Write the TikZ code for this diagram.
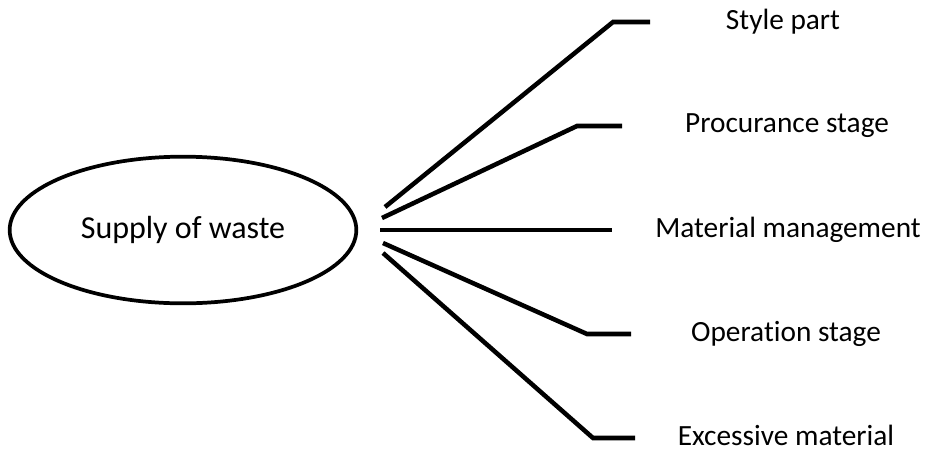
\documentclass[tikz,border=0pt]{standalone}
\usepackage{fontspec}
\setmainfont{Carlito}[RawFeature=-liga]
\usepackage{tikz}
\usetikzlibrary{shapes.geometric, positioning}

\begin{document}
\begin{tikzpicture}[
    x=0.75pt, y=-0.75pt,
    hub/.style={ellipse, draw, line width=2.8pt, minimum width=260pt,
                minimum height=110pt, font=\fontsize{24}{28}\selectfont},
    item/.style={font=\fontsize{22}{26}\selectfont, inner sep=0pt, anchor=center},
    branch/.style={line width=3.4pt}
  ]
  \useasboundingbox (0,0) rectangle (925,451);

  \node[hub] (supply) at (183,230) {Supply of waste};

  \node[item] (style) at (783,22) {Style part};
  \node[item] (procure) at (787,126) {Procurance stage};
  \node[item] (material) at (788,230) {Material management};
  \node[item] (operation) at (786,334) {Operation stage};
  \node[item] (excess) at (786,435) {Excessive material};

  % start, bend and end of each branch
  \coordinate (s1) at (385,207); \coordinate (b1) at (613,22);  \coordinate (e1) at (650,22);
  \coordinate (s2) at (382,218); \coordinate (b2) at (577,126); \coordinate (e2) at (622,126);
  \coordinate (s3) at (380,230); \coordinate (e3) at (612,230);
  \coordinate (s4) at (383,243); \coordinate (b4) at (587,334); \coordinate (e4) at (631,334);
  \coordinate (s5) at (383,253); \coordinate (b5) at (593,438); \coordinate (e5) at (635,438);

  \draw[branch] (s1) -- (b1) -- (e1);
  \draw[branch] (s2) -- (b2) -- (e2);
  \draw[branch] (s3) -- (e3);
  \draw[branch] (s4) -- (b4) -- (e4);
  \draw[branch] (s5) -- (b5) -- (e5);

\end{tikzpicture}
\end{document}
